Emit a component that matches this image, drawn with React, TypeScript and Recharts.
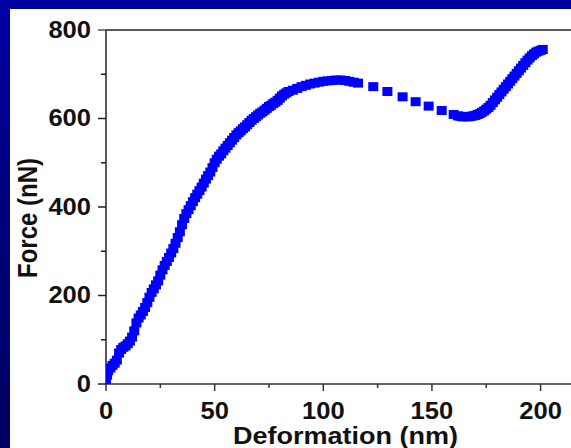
import React from "react";
import { ScatterChart, Scatter, XAxis, YAxis, ReferenceLine } from "recharts";

// Rising part (deformation nm, force nN)
const riseX = [0,0.5,1,2,3,4,5,6,7,8,9,10,11,12,13,14,15,16,17,18,19,20,21,22,23,24,25,26,27,28,29,30,31,32,33,34,35,36,37,38,39,40,41,42,43,44,45,46,47,48,49,50,51,52,53,54,55,56,57,58,59,60,61,62,63,64,65,66,67,68,69,70,71,72,73,74,75,76,77,78,79,80];
const riseY = [8,20,30,36,42,47,54,70,78,83,86,91,97,106,120,138,149,156,164,173,184,196,207,215,224,233,246,258,268,277,286,296,306,318,331,344,360,374,385,394,403,412,421,429,437,445,454,463,471,479,489,500,508,515,520,527,533,539,545,551,557,563,568,572,577,581,586,591,596,600,604,608,612,615,619,623,627,630,634,637,641,646];
// Plateau
const plateauX = [81,82,83,84,86,88,90,92,94,96,98,100,102,104,106,108,110,112,114,116];
const plateauY = [651,655,658,661,664,668,672,675,678,680,682,684,685,686,687,687,686,684,682,680];
// Sparse softening points
const sparseX = [123,129.5,136.5,142.5,148.5,154.5,160];
const sparseY = [672,661,649,638,628,618,609];
// Recovery / stiffening
const recoverX = [162,163,164,165,166,167,168,169,170,171,172,173,174,175,176,177,178,179,180,181,182,183,184,185,186,187,188,189,190,191,192,193,194,195,196,197,198,199,200,201];
const recoverY = [606,605,604,604,604,604,605,606,607,609,611,614,617,621,625,630,636,642,648,654,660,666,672,678,684,690,696,702,708,714,720,726,732,737,742,746,750,752,754,756];

const xMajor = [0, 50, 100, 150, 200];
const xMinor = [25, 75, 125, 175];
const yMajor = [0, 200, 400, 600, 800];
const yMinor = [100, 300, 500, 700];
const xTitle = "Deformation (nm)";
const yTitle = "Force (nN)";

const toPts = (xs: number[], ys: number[]) => xs.map((x, i) => ({ x, y: ys[i] }));
const data = [
  ...toPts(riseX, riseY),
  ...toPts(plateauX, plateauY),
  ...toPts(sparseX, sparseY),
  ...toPts(recoverX, recoverY),
];

const FONT = "'Liberation Sans', Arial, sans-serif";
const BLUE = "#0000ff";

const lenFor = (s: string) => s.length * 14.2;

const XTick = (props: any) => {
  const { x, y, payload } = props;
  const v = payload.value;
  const major = xMajor.includes(v);
  const s = String(v);
  return (
    <g>
      <line x1={x} x2={x} y1={y} y2={y + (major ? 7 : 4)} stroke="#333" strokeWidth={1.5} />
      {major && (
        <text
          x={x}
          y={y + 35}
          textAnchor="middle"
          fontFamily={FONT}
          fontWeight="bold"
          fontSize={23}
          fill="#111"
          textLength={lenFor(s)}
          lengthAdjust="spacingAndGlyphs"
        >
          {s}
        </text>
      )}
    </g>
  );
};

const YTick = (props: any) => {
  const { x, y, payload } = props;
  const v = payload.value;
  const major = yMajor.includes(v);
  const s = String(v);
  return (
    <g>
      <line x1={x - (major ? 8 : 5)} x2={x} y1={y} y2={y} stroke={v === 800 ? "#555" : "#222"} strokeWidth={1.5} />
      {major && (
        <text
          x={x - 15}
          y={y + 7.5}
          textAnchor="end"
          fontFamily={FONT}
          fontWeight="bold"
          fontSize={23}
          fill="#111"
          textLength={lenFor(s)}
          lengthAdjust="spacingAndGlyphs"
        >
          {s}
        </text>
      )}
    </g>
  );
};

const SquareDot = (props: any) => {
  const { cx, cy } = props;
  if (cx == null || cy == null) return <g />;
  return <rect x={cx - 5} y={cy - 4.5} width={10} height={9} fill={BLUE} />;
};

export default function App() {
  return (
    <div
      style={{
        position: "absolute",
        left: 0,
        top: 0,
        width: 571,
        height: 448,
        overflow: "hidden",
        background: "#ffffff",
      }}
    >
      <div
        style={{
          position: "absolute",
          left: 0,
          top: 0,
          width: 571,
          height: 9,
          background: "#00009e",
        }}
      />
      <div
        style={{
          position: "absolute",
          left: 0,
          top: 0,
          width: 10,
          height: 448,
          background: "linear-gradient(#0000a4, #00007a 50%, #000064)",
        }}
      />
      <div style={{ position: "absolute", left: 0, top: 0 }}>
        <ScatterChart
          width={571}
          height={448}
          margin={{ top: 30, right: 0, bottom: 0, left: 0 }}
        >
          <XAxis
            type="number"
            dataKey="x"
            domain={[0, 214]}
            allowDataOverflow
            ticks={[...xMajor, ...xMinor].sort((a, b) => a - b)}
            interval={0}
            height={64}
            tickSize={0}
            tickMargin={0}
            tickLine={false}
            axisLine={{ stroke: "#333", strokeWidth: 1.5 }}
            tick={<XTick />}
            label={{
              content: () => (
                <text
                  x={345.5}
                  y={444}
                  textAnchor="middle"
                  fontFamily={FONT}
                  fontWeight="bold"
                  fontSize={24}
                  fill="#111"
                  textLength={225}
                  lengthAdjust="spacingAndGlyphs"
                >
                  {xTitle}
                </text>
              ),
            }}
          />
          <YAxis
            type="number"
            dataKey="y"
            domain={[0, 800]}
            allowDataOverflow
            ticks={[...yMajor, ...yMinor].sort((a, b) => a - b)}
            interval={0}
            width={106}
            tickSize={0}
            tickMargin={0}
            tickLine={false}
            axisLine={{ stroke: "#222", strokeWidth: 1.5 }}
            tick={<YTick />}
            label={{
              content: () => (
                <text
                  transform="translate(37, 218) rotate(-90) scale(1, 1.12)"
                  x={0}
                  y={0}
                  textAnchor="middle"
                  fontFamily={FONT}
                  fontWeight="bold"
                  fontSize={24}
                  fill="#111"
                >
                  {yTitle}
                </text>
              ),
            }}
          />
          <ReferenceLine y={800} stroke="#5a5a5a" strokeWidth={2} ifOverflow="visible" />
          <Scatter data={data} fill={BLUE} shape={<SquareDot />} isAnimationActive={false} />
        </ScatterChart>
      </div>
    </div>
  );
}
